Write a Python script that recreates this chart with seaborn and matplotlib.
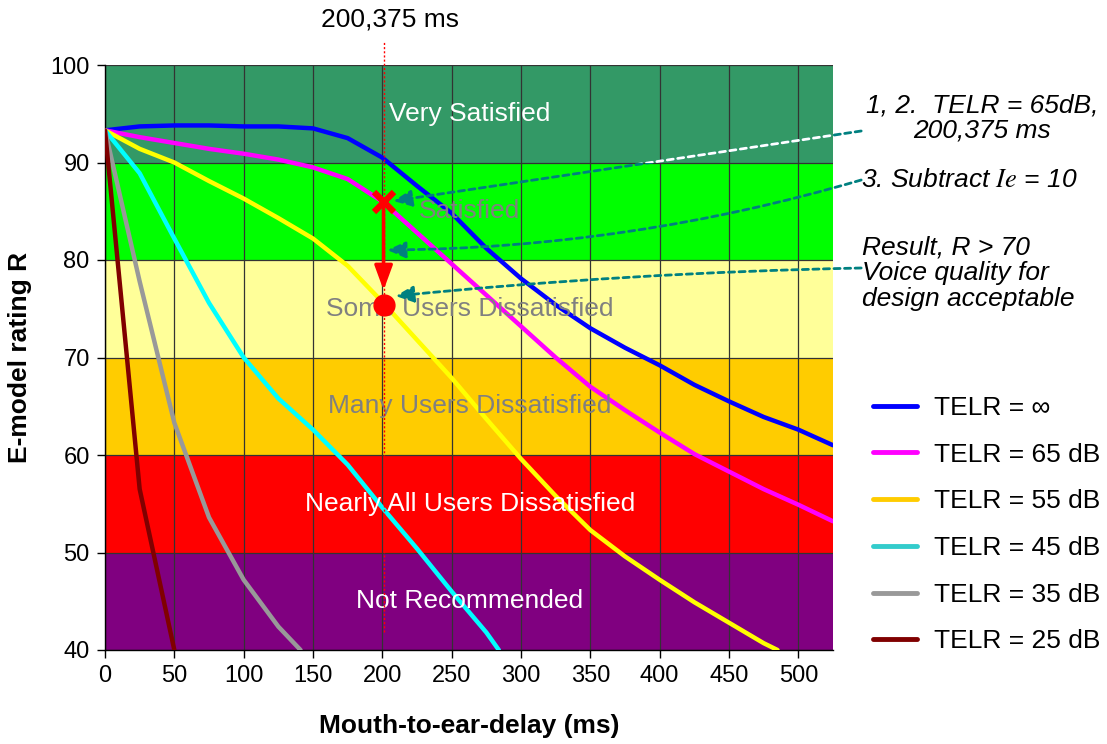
import matplotlib
matplotlib.use("Agg")
import matplotlib.pyplot as plt
from matplotlib.lines import Line2D
from matplotlib.patches import Rectangle
import seaborn as sns
import numpy as np

# ---------------- data ----------------
delay_blue = [0, 25, 50, 75, 100, 125, 150, 175, 200, 225, 250, 275, 300, 325, 350, 375, 400, 425, 450, 475, 500, 525]
r_blue = [93.3, 93.7, 93.8, 93.8, 93.7, 93.7, 93.5, 92.5, 90.5, 87.6, 84.8, 81.2, 78.1, 75.4, 73.0, 71.0, 69.2, 67.2, 65.5, 63.9, 62.6, 61.0]

delay_mag = [0, 25, 50, 75, 100, 125, 150, 175, 200, 225, 250, 275, 300, 325, 350, 375, 400, 425, 450, 475, 500, 525]
r_mag = [93.3, 92.6, 92.0, 91.4, 90.9, 90.3, 89.5, 88.3, 86.0, 82.8, 79.6, 76.4, 73.2, 70.0, 67.0, 64.6, 62.3, 60.1, 58.3, 56.5, 54.9, 53.2]

delay_yel = [0, 25, 50, 75, 100, 125, 150, 175, 200, 225, 250, 275, 300, 325, 350, 375, 400, 425, 450, 475, 485]
r_yel = [93.3, 91.4, 90.0, 88.1, 86.3, 84.3, 82.2, 79.4, 75.7, 71.8, 67.9, 63.7, 59.6, 55.8, 52.3, 49.6, 47.2, 44.9, 42.8, 40.7, 40.0]

delay_cyan = [0, 25, 50, 75, 100, 125, 150, 175, 200, 225, 250, 275, 284]
r_cyan = [93.3, 88.9, 82.2, 75.6, 70.0, 65.8, 62.6, 59.0, 54.6, 50.4, 46.0, 41.8, 40.0]

delay_gray = [0, 25, 50, 75, 100, 125, 141]
r_gray = [93.3, 77.8, 63.3, 53.6, 47.2, 42.4, 40.0]

delay_dred = [0, 25, 50]
r_dred = [93.3, 56.5, 40.0]

series_labels = ["TELR = \u221e", "TELR = 65 dB", "TELR = 55 dB", "TELR = 45 dB", "TELR = 35 dB", "TELR = 25 dB"]
line_colors = ["#0000FF", "#FF00FF", "#FFFF00", "#00FFFF", "#999999", "#800000"]
legend_colors = ["#0000FF", "#FF00FF", "#FFCC00", "#33CCCC", "#999999", "#800000"]

band_edges = [40, 50, 60, 70, 80, 90, 100]
band_colors = ["#800080", "#FF0000", "#FFCC00", "#FFFF99", "#00FF00", "#339966"]
band_labels = ["Not Recommended", "Nearly All Users Dissatisfied", "Many Users Dissatisfied",
               "Some Users Dissatisfied", "Satisfied", "Very Satisfied"]
band_text_colors = ["white", "white", "#808080", "#808080", "#808080", "white"]

x_ticks = [0, 50, 100, 150, 200, 250, 300, 350, 400, 450, 500]
y_ticks = [40, 50, 60, 70, 80, 90, 100]

design_delay = 200.9
r_at_65dB = 86.0
r_result = 75.4
r_arrow_tip = 76.9

# ---------------- style ----------------
sns.set_style("white")
plt.rcParams["font.family"] = ["Liberation Sans", "DejaVu Sans"]
plt.rcParams["mathtext.fontset"] = "stix"
plt.rcParams["text.color"] = "black"
plt.rcParams["axes.labelcolor"] = "black"
plt.rcParams["xtick.color"] = "black"
plt.rcParams["ytick.color"] = "black"

fig = plt.figure(figsize=(11.07, 7.44), dpi=100)
ax = fig.add_axes([105 / 1107, 94 / 744, 728 / 1107, 585 / 744])

for lo, hi, c in zip(band_edges[:-1], band_edges[1:], band_colors):
    ax.axhspan(lo, hi, color=c, zorder=0.2, lw=0)

ax.set_axisbelow(True)
ax.grid(True, color="#333333", lw=0.9)

all_x = [delay_blue, delay_mag, delay_yel, delay_cyan, delay_gray, delay_dred]
all_y = [r_blue, r_mag, r_yel, r_cyan, r_gray, r_dred]
for xs, ys, c in zip(all_x, all_y, line_colors):
    sns.lineplot(x=xs, y=ys, color=c, lw=3.2, ax=ax, zorder=3, legend=False)

# band labels
for lo, hi, lab, tc in zip(band_edges[:-1], band_edges[1:], band_labels, band_text_colors):
    ax.text(263, (lo + hi) / 2, lab, ha="center", va="center", fontsize=19, color=tc, zorder=4)

ax.set_xlim(0, 525)
ax.set_ylim(40, 100)
ax.set_xticks(x_ticks)
ax.set_yticks(y_ticks)
ax.tick_params(axis="both", direction="out", length=6, width=1, labelsize=17, colors="black",
               left=True, bottom=True, pad=5)
for s in ["top", "right"]:
    ax.spines[s].set_visible(False)
for s in ["left", "bottom"]:
    ax.spines[s].set_color("black")
    ax.spines[s].set_linewidth(1)

ax.set_xlabel("Mouth-to-ear-delay (ms)", fontsize=19, fontweight="bold", labelpad=19, color="black")
ax.set_ylabel("E-model rating R", fontsize=19, fontweight="bold", labelpad=13, color="black")

# vertical dotted design line
ax.plot([design_delay, design_delay], [41.8, 102.5], ls=(0, (1.5, 1.5)), color="red", lw=1.0,
        clip_on=False, zorder=5)
fig.text(390 / 1107, 1 - 20 / 744, "200,375 ms", ha="center", va="center", fontsize=19, color="black")

# red arrow and markers
ax.annotate("", xy=(design_delay, r_arrow_tip), xytext=(design_delay, r_at_65dB),
            arrowprops=dict(arrowstyle="-|>,head_length=1.5,head_width=0.55", color="red", lw=2.5,
                            shrinkA=0, shrinkB=0, mutation_scale=10), zorder=6)
ax.plot([design_delay], [r_at_65dB], marker="x", color="red", markersize=15, mew=4.5, zorder=7)
ax.plot([design_delay], [r_result], marker="o", color="red", markersize=15, zorder=7)

# teal dashed annotation arrows
teal = "#008080"
def px2data(px, py):
    return ((px - 105) / 1.3845, 100 - (py - 65) / 9.75)

arrow_defs = [
    ((860, 131), (393, 201), 0.0),
    ((860, 180), (387, 250), -0.07),
    ((860, 268), (395, 296), 0.02),
]
for (sx, sy), (tx, ty), rad in arrow_defs:
    ax.annotate("", xy=px2data(tx, ty), xytext=px2data(sx, sy), annotation_clip=False,
                arrowprops=dict(arrowstyle="-|>,head_length=1.1,head_width=0.5", color=teal, lw=2,
                                linestyle=(0, (2.2, 1.6)), shrinkA=0, shrinkB=0, mutation_scale=10,
                                connectionstyle=f"arc3,rad={rad}"), zorder=6)
# white copy over the dark green band for the first arrow
(sx, sy), (tx, ty), rad = arrow_defs[0]
w = ax.annotate("", xy=px2data(tx, ty), xytext=px2data(sx, sy), annotation_clip=False,
                arrowprops=dict(arrowstyle="-", color="white", lw=2,
                                linestyle=(0, (2.2, 1.6)), shrinkA=0, shrinkB=0, mutation_scale=10,
                                connectionstyle=f"arc3,rad={rad}"), zorder=6.5)
clip_rect = Rectangle((0, 90), 525, 10, transform=ax.transData)
w.arrow_patch.set_clip_path(clip_rect)

# annotation texts
fig.text(982 / 1107, 1 - 118 / 744, "1, 2.  TELR = 65dB,\n200,375 ms", ha="center", va="center",
         fontsize=19, style="italic", linespacing=1.02, color="black")
fig.text(861 / 1107, 1 - 180 / 744, r"3. Subtract $\mathit{Ie}$ = 10", ha="left", va="center",
         fontsize=19, style="italic", color="black")
fig.text(862 / 1107, 1 - 273 / 744, "Result, R > 70\nVoice quality for\ndesign acceptable",
         ha="left", va="center", fontsize=19, style="italic", linespacing=1.1, color="black")

# legend
handles = [Line2D([0], [0], color=c, lw=3.5) for c in legend_colors]
leg = fig.legend(handles, series_labels, loc="upper left", bbox_to_anchor=(873 / 1107, 1 - 396 / 744),
                 frameon=False, fontsize=19, handlelength=1.65, handletextpad=0.68, labelspacing=0.86,
                 borderpad=0, borderaxespad=0)
for t in leg.get_texts():
    t.set_color("black")

fig.savefig("out.png", dpi=100)
